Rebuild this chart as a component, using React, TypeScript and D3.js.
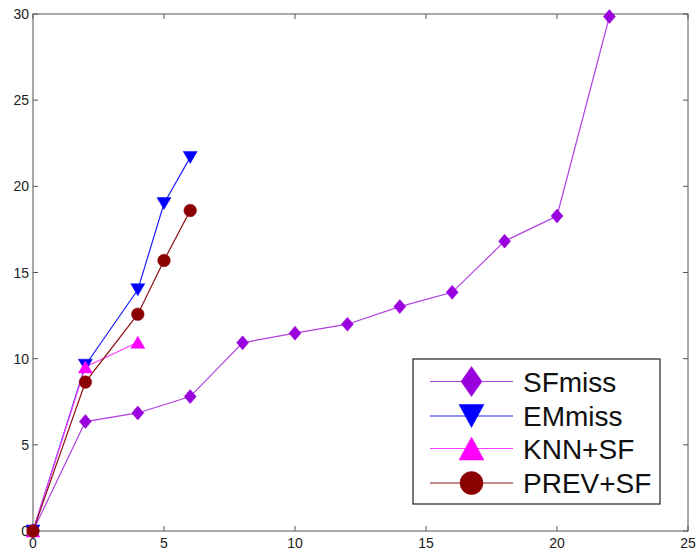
import React from "react";
import * as d3 from "d3";

const sfX = [0, 2, 4, 6, 8, 10, 12, 14, 16, 18, 20, 22];
const sfY = [0, 6.35, 6.85, 7.8, 10.92, 11.48, 12.0, 13.02, 13.85, 16.82, 18.28, 29.85];
const emX = [0, 2, 4, 5, 6];
const emY = [0, 9.62, 14.0, 19.0, 21.68];
const knnX = [0, 2, 4];
const knnY = [0, 9.52, 10.95];
const prevX = [0, 2, 4, 5, 6];
const prevY = [0, 8.64, 12.58, 15.7, 18.6];
const xTicks = [0, 5, 10, 15, 20, 25];
const yTicks = [0, 5, 10, 15, 20, 25, 30];
const seriesNames = ["SFmiss", "EMmiss", "KNN+SF", "PREV+SF"];

const W = 696, H = 554;
const L = 33, R = 688, T = 14, B = 531;

function Marker({ kind, x, y, w, h, color }: { kind: string; x: number; y: number; w: number; h: number; color: string }) {
  if (kind === "diamond") {
    return <path d={`M${x},${y - h}L${x + w},${y}L${x},${y + h}L${x - w},${y}Z`} fill={color} stroke={color} strokeWidth={0.5} />;
  }
  if (kind === "down") {
    return <path d={`M${x - w},${y - h}L${x + w},${y - h}L${x},${y + h}Z`} fill={color} stroke={color} strokeWidth={0.5} />;
  }
  if (kind === "up") {
    return <path d={`M${x - w},${y + h}L${x + w},${y + h}L${x},${y - h}Z`} fill={color} stroke={color} strokeWidth={0.5} />;
  }
  return <circle cx={x} cy={y} r={w} fill={color} stroke={color} strokeWidth={0.5} />;
}

export default function App() {
  const x = d3.scaleLinear().domain([0, 25]).range([L, R]);
  const y = d3.scaleLinear().domain([0, 30]).range([B, T]);
  const line = d3.line<[number, number]>().x(d => x(d[0])).y(d => y(d[1]));

  const series = [
    { name: seriesNames[0], xs: sfX, ys: sfY, line: "#b040e0", fill: "#9900dd", kind: "diamond", pw: 6, ph: 7, lw: 10.5, lh: 15 },
    { name: seriesNames[1], xs: emX, ys: emY, line: "#2020ff", fill: "#0000ff", kind: "down", pw: 7, ph: 6, lw: 12.5, lh: 11.5 },
    { name: seriesNames[2], xs: knnX, ys: knnY, line: "#ff40ff", fill: "#ff00ff", kind: "up", pw: 7, ph: 6, lw: 12.5, lh: 11.5 },
    { name: seriesNames[3], xs: prevX, ys: prevY, line: "#8b1010", fill: "#8b0000", kind: "circle", pw: 6.3, ph: 6.3, lw: 11.5, lh: 11.5 },
  ];

  const legY = [381.5, 416, 448.5, 483];
  const axisColor = "#555";

  return (
    <svg width={W} height={H} style={{ display: "block", position: "absolute", left: 0, top: 0 }} fontFamily="'Liberation Sans', Arial, sans-serif">
      <rect x={0} y={0} width={W} height={H} fill="#fff" />
      {xTicks.map(t => (
        <g key={"x" + t}>
          <line x1={x(t)} x2={x(t)} y1={B} y2={B - 5} stroke={axisColor} />
          <line x1={x(t)} x2={x(t)} y1={T} y2={T + 5} stroke={axisColor} />
          <text x={x(t)} y={548} fontSize={14} textAnchor="middle" fill="#222">{t}</text>
        </g>
      ))}
      {yTicks.map(t => (
        <g key={"y" + t}>
          <line x1={L} x2={L + 5} y1={y(t)} y2={y(t)} stroke={axisColor} />
          <line x1={R} x2={R - 5} y1={y(t)} y2={y(t)} stroke={axisColor} />
          <text x={29} y={y(t) + 5} fontSize={14} textAnchor="end" fill="#222">{t}</text>
        </g>
      ))}
      <rect x={L} y={T} width={R - L} height={B - T} fill="none" stroke={axisColor} strokeWidth={1} />
      {series.map(s => (
        <path key={s.name} d={line(s.xs.map((v, i) => [v, s.ys[i]] as [number, number])) || ""} fill="none" stroke={s.line} strokeWidth={1.2} />
      ))}
      {series.map(s => (
        <g key={s.name + "m"}>
          {s.xs.map((v, i) => (
            <Marker key={i} kind={s.kind} x={x(v)} y={y(s.ys[i])} w={s.pw} h={s.ph} color={s.fill} />
          ))}
        </g>
      ))}
      <rect x={413} y={359} width={247} height={145} fill="#fff" stroke="#222" strokeWidth={1.2} />
      {series.map((s, i) => (
        <g key={s.name + "l"}>
          <line x1={430} x2={513} y1={legY[i]} y2={legY[i]} stroke={s.line} strokeWidth={1.2} />
          <Marker kind={s.kind} x={471.5} y={legY[i]} w={s.lw} h={s.lh} color={s.fill} />
          <text x={523} y={legY[i] + 10} fontSize={28} fill="#111">{s.name}</text>
        </g>
      ))}
    </svg>
  );
}
